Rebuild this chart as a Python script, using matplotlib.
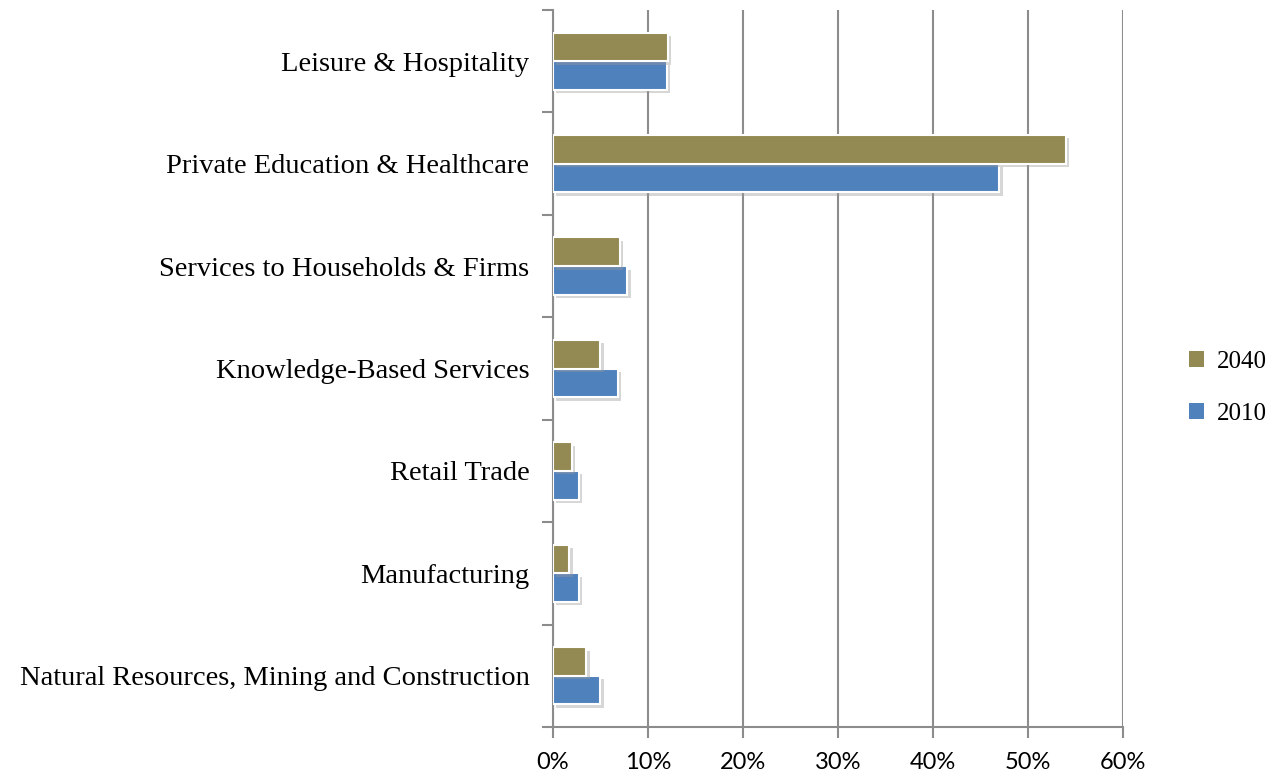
import matplotlib
matplotlib.use("Agg")
import matplotlib.pyplot as plt
import matplotlib.patheffects as pe
from matplotlib.ticker import FuncFormatter
import numpy as np

# Sectors listed bottom to top
sectors = [
    "Natural Resources, Mining and Construction",
    "Manufacturing",
    "Retail Trade",
    "Knowledge-Based Services",
    "Services to Households & Firms",
    "Private Education & Healthcare",
    "Leisure & Hospitality",
]
share_2040 = [3.5, 1.7, 2.0, 5.0, 7.05, 54.0, 12.1]
share_2010 = [5.0, 2.7, 2.7, 6.8, 7.8, 47.0, 12.0]
x_ticks = [0, 10, 20, 30, 40, 50, 60]

color_2040 = "#938953"
color_2010 = "#4F81BD"
grid_color = "#8c8c8c"

fig = plt.figure(figsize=(12.78, 7.75), dpi=100)
ax = fig.add_axes([0.4327, 0.062, 0.446, 0.925])

y = np.arange(len(sectors))
h = 0.28
shadow = [pe.SimplePatchShadow(offset=(2.5, -2.5), shadow_rgbFace="#9a9a9a", alpha=0.4),
          pe.Normal()]

b2010 = ax.barh(y - h / 2, share_2010, height=h, color=color_2010,
                edgecolor="white", linewidth=1.5, label="2010", zorder=3)
b2040 = ax.barh(y + h / 2, share_2040, height=h, color=color_2040,
                edgecolor="white", linewidth=1.5, label="2040", zorder=3)
for bars in (b2010, b2040):
    for p in bars:
        p.set_path_effects(shadow)

ax.set_xlim(0, 60)
ax.set_ylim(-0.5, len(sectors) - 0.5)
ax.set_xticks(x_ticks)
ax.xaxis.set_major_formatter(FuncFormatter(lambda v, _: f"{v:.0f}%"))

# category ticks at the boundaries, labels centred between them
ax.set_yticks(np.arange(-0.5, len(sectors), 1.0))
ax.set_yticklabels([])
ax.set_yticks(y, minor=True)
ax.set_yticklabels(sectors, minor=True, fontfamily="Liberation Serif", fontsize=20.5)
ax.tick_params(axis="y", which="minor", length=0, pad=17)
ax.tick_params(axis="y", which="major", length=8, width=1.5, color=grid_color, direction="out")
ax.tick_params(axis="x", length=8, width=1.5, color=grid_color, direction="out",
               labelsize=17, pad=10)
for lbl in ax.get_xticklabels():
    lbl.set_fontfamily("Lato")

ax.grid(axis="x", color=grid_color, linewidth=1.5, zorder=0)
ax.set_axisbelow(True)
for side in ("top", "right"):
    ax.spines[side].set_visible(False)
ax.spines["left"].set_color(grid_color)
ax.spines["left"].set_linewidth(1.5)
ax.spines["bottom"].set_color(grid_color)
ax.spines["bottom"].set_linewidth(1.5)

handles = [b2040, b2010]
leg = fig.legend(handles, ["2040", "2010"], loc="center left",
                 bbox_to_anchor=(0.913, 0.50), frameon=False,
                 prop={"family": "Liberation Serif", "size": 18},
                 handlelength=0.6, handleheight=0.6, handletextpad=0.5,
                 labelspacing=1.2)
for hnd in leg.legend_handles:
    hnd.set_path_effects([])
    hnd.set_edgecolor("none")

fig.savefig("out.png", dpi=100, facecolor="white")
